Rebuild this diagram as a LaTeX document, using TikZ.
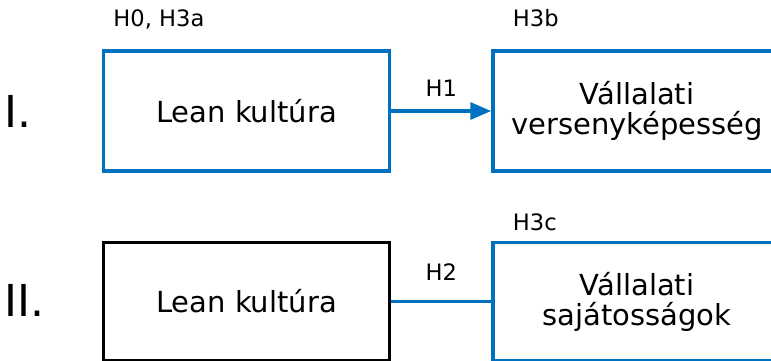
\documentclass[tikz,border=0pt]{standalone}
\usepackage{fontspec}
\setmainfont{DejaVu Sans}
\usetikzlibrary{positioning,arrows.meta}
\definecolor{leanblue}{HTML}{0070C0}

\begin{document}
\begin{tikzpicture}[x=1pt,y=-1pt]

\tikzstyle{block} = [draw, rectangle, line width=3.5pt, minimum width=286pt, minimum height=120pt,
                     inner sep=0pt, align=center, font=\fontsize{29}{30}\selectfont]
\tikzstyle{lbl}   = [black, inner sep=0pt, font=\fontsize{22.6}{26}\selectfont]
\tikzstyle{num}   = [black, inner sep=0pt, anchor=base west, font=\fontsize{44}{50}\selectfont]
\tikzstyle{link}  = [leanblue, line width=3.5pt]

\clip (0,0) rectangle (771,360);

% first model
\node [block, draw=leanblue] (Lean1) at (246.5,111) {Lean kultúra};
\node [block, draw=leanblue, minimum width=288pt, right=100pt of Lean1] (Verseny) {Vállalati\\versenyképesség};
\draw [link, -{Triangle[length=21pt,width=17pt]}] (Lean1) -- node [lbl, above=13pt] (H1) {H1} (Verseny);

% second model
\node [block, draw=black, minimum height=118pt, below=68pt of Lean1] (Lean2) {Lean kultúra};
\node [block, draw=leanblue, minimum width=288pt, minimum height=118pt, right=100pt of Lean2] (Sajat) {Vállalati\\sajátosságok};
\draw [link] (Lean2) -- node [lbl, above=19pt] (H2) {H2} (Sajat);

% hypothesis tags
\node [lbl, anchor=base west] (H0) at ([xshift=11.5pt, yshift=23pt]Lean1.north west) {H0, H3a};
\node [lbl, anchor=base west] (H3b) at ([xshift=21.5pt, yshift=23pt]Verseny.north west) {H3b};
\node [lbl, anchor=base west] (H3c) at ([xshift=21.5pt, yshift=10pt]Sajat.north west) {H3c};

\node [num] (Num1) at (4,127) {I.};
\node [num] (Num2) at (4,316) {II.};
\end{tikzpicture}
\end{document}
